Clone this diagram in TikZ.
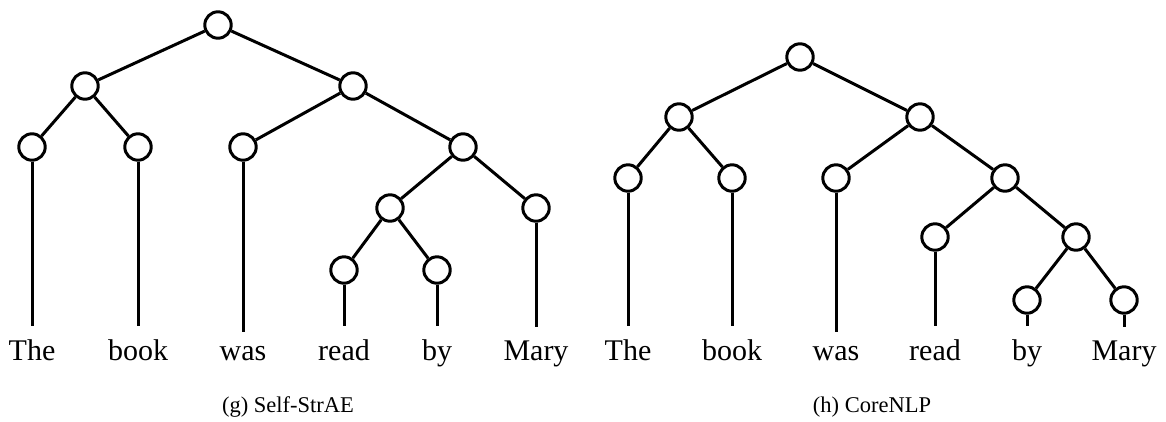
\documentclass[tikz,border=0pt]{standalone}
\usepackage{fontspec}
\setmainfont{Liberation Serif}
\begin{document}
\begin{tikzpicture}[x=1pt,y=-1pt,line width=3pt,
  tn/.style={circle,draw,minimum size=26.4pt,inner sep=0pt},
  word/.style={anchor=base,inner xsep=2pt,inner ysep=12pt,font=\fontsize{30}{32}\selectfont},
  capt/.style={anchor=base,inner sep=0pt,font=\fontsize{22.5}{26}\selectfont}]
\useasboundingbox (0,0) rectangle (1166,421);
% left tree
\node[tn] (g0) at (218,25) {};
\node[tn] (g1) at (85,86) {};
\node[tn] (g2) at (353,86) {};
\node[tn] (g3) at (32,147) {};
\node[tn] (g4) at (138,147) {};
\node[tn] (g5) at (243,147) {};
\node[tn] (g6) at (463,147) {};
\node[tn] (g7) at (390,208) {};
\node[tn] (g8) at (536,208) {};
\node[tn] (g9) at (344,270) {};
\node[tn] (g10) at (437,270) {};
\node[word] (gw1) at (32,360) {The};
\node[word] (gw2) at (138,360) {book};
\node[word] (gw3) at (243,360) {was};
\node[word] (gw4) at (344,360) {read};
\node[word] (gw5) at (437,360) {by};
\node[word] (gw6) at (536,360) {Mary};
\draw (g0) -- (g1); \draw (g0) -- (g2);
\draw (g1) -- (g3); \draw (g1) -- (g4);
\draw (g2) -- (g5); \draw (g2) -- (g6);
\draw (g6) -- (g7); \draw (g6) -- (g8);
\draw (g7) -- (g9); \draw (g7) -- (g10);
\draw (g3) -- (gw1.north); \draw (g4) -- (gw2.north);
\draw (g5) -- (gw3.north); \draw (g9) -- (gw4.north);
\draw (g10) -- (gw5.north); \draw (g8) -- (gw6.north);
\node[capt] (gc) at (288,412) {(g) Self-StrAE};
% right tree
\node[tn] (h0) at (800,57) {};
\node[tn] (h1) at (679,117) {};
\node[tn] (h2) at (920,117) {};
\node[tn] (h3) at (628,178) {};
\node[tn] (h4) at (732,178) {};
\node[tn] (h5) at (836,178) {};
\node[tn] (h6) at (1005,178) {};
\node[tn] (h7) at (935,237) {};
\node[tn] (h8) at (1076,237) {};
\node[tn] (h9) at (1027,300) {};
\node[tn] (h10) at (1124,300) {};
\node[word] (hw1) at (628,360) {The};
\node[word] (hw2) at (732,360) {book};
\node[word] (hw3) at (836,360) {was};
\node[word] (hw4) at (935,360) {read};
\node[word] (hw5) at (1027,360) {by};
\node[word] (hw6) at (1124,360) {Mary};
\draw (h0) -- (h1); \draw (h0) -- (h2);
\draw (h1) -- (h3); \draw (h1) -- (h4);
\draw (h2) -- (h5); \draw (h2) -- (h6);
\draw (h6) -- (h7); \draw (h6) -- (h8);
\draw (h8) -- (h9); \draw (h8) -- (h10);
\draw (h3) -- (hw1.north); \draw (h4) -- (hw2.north);
\draw (h5) -- (hw3.north); \draw (h7) -- (hw4.north);
\draw (h9) -- (hw5.north); \draw (h10) -- (hw6.north);
\node[capt] (hc) at (872,412) {(h) CoreNLP};
\end{tikzpicture}
\end{document}
